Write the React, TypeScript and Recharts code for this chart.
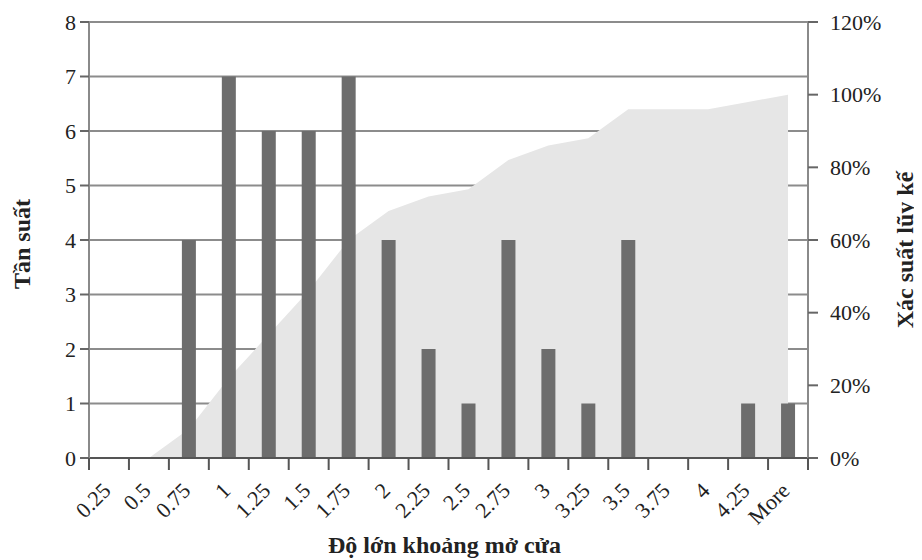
import React from "react";
import { Area, Bar, CartesianGrid, ComposedChart, Label, XAxis, YAxis } from "recharts";

const BINS = [
  "0.25", "0.5", "0.75", "1", "1.25", "1.5", "1.75", "2", "2.25",
  "2.5", "2.75", "3", "3.25", "3.5", "3.75", "4", "4.25", "More",
];
const FREQUENCY = [0, 0, 4, 7, 6, 6, 7, 4, 2, 1, 4, 2, 1, 4, 0, 0, 1, 1];
const CUMULATIVE = [0, 0, 0.08, 0.22, 0.34, 0.46, 0.6, 0.68, 0.72, 0.74, 0.82, 0.86, 0.88, 0.96, 0.96, 0.96, 0.98, 1];
const FREQ_TICKS = [0, 1, 2, 3, 4, 5, 6, 7, 8];
const CUM_TICKS = [0, 0.2, 0.4, 0.6, 0.8, 1, 1.2];

const rows = BINS.map((bin, i) => ({ bin, freq: FREQUENCY[i], cum: CUMULATIVE[i] }));

const W = 914;
const H = 552;
const PLOT_W = 719;
const BAND = PLOT_W / BINS.length;
const TEXT = "#222";
const AXIS = "#8a8a8a";

function BinTick(props: any) {
  const { x, y, payload, index } = props;
  const half = BAND / 2;
  return (
    <g>
      <line x1={x - half} x2={x - half} y1={y} y2={y + 12} stroke="#555" strokeWidth={2} />
      {index === BINS.length - 1 ? (
        <line x1={x + half} x2={x + half} y1={y} y2={y + 12} stroke="#555" strokeWidth={2} />
      ) : null}
      <text
        x={x + 3}
        y={y + 34}
        transform={`rotate(-45 ${x + 3} ${y + 34})`}
        textAnchor="end"
        fontSize={22}
        fill={TEXT}
      >
        {payload.value}
      </text>
    </g>
  );
}

function verticalTitle(text: string, dx: number, dy: number) {
  return (props: any) => {
    const vb = props.viewBox;
    const cx = vb.x + dx;
    const cy = vb.y + vb.height / 2 + dy;
    return (
      <text
        x={cx}
        y={cy}
        transform={`rotate(-90 ${cx} ${cy})`}
        textAnchor="middle"
        dominantBaseline="central"
        fontSize={24}
        fontWeight="bold"
        fill={TEXT}
      >
        {text}
      </text>
    );
  };
}

function bottomTitle(props: any) {
  const vb = props.viewBox;
  return (
    <text
      x={vb.x + vb.width / 2 - 4}
      y={vb.y + 95}
      textAnchor="middle"
      fontSize={24}
      fontWeight="bold"
      fill={TEXT}
    >
      Độ lớn khoảng mở cửa
    </text>
  );
}

export default function App() {
  return (
    <div style={{ width: W, height: H, fontFamily: "'Liberation Serif', serif" }}>
      <ComposedChart width={W} height={H} data={rows} margin={{ top: 14, right: 4, bottom: 0, left: 5 }}>
        <CartesianGrid yAxisId="freq" vertical={false} stroke="#8c8c8c" strokeWidth={2} />
        <XAxis
          dataKey="bin"
          interval={0}
          height={102}
          tickLine={false}
          tickSize={0}
          tickMargin={0}
          axisLine={{ stroke: "#555", strokeWidth: 2 }}
          tick={<BinTick />}
        >
          <Label content={bottomTitle} />
        </XAxis>
        <YAxis
          yAxisId="freq"
          domain={[0, 8]}
          ticks={FREQ_TICKS}
          width={76}
          tickSize={9}
          tickMargin={4}
          axisLine={{ stroke: AXIS, strokeWidth: 2 }}
          tickLine={{ stroke: "#666", strokeWidth: 2 }}
          tick={{ fontSize: 22, fill: TEXT }}
        >
          <Label content={verticalTitle("Tần suất", 9, 4)} />
        </YAxis>
        <YAxis
          yAxisId="cum"
          orientation="right"
          domain={[0, 1.2]}
          ticks={CUM_TICKS}
          width={110}
          tickSize={10}
          tickMargin={12}
          axisLine={{ stroke: AXIS, strokeWidth: 2 }}
          tickLine={{ stroke: "#666", strokeWidth: 2 }}
          tick={{ fontSize: 22, fill: TEXT }}
          tickFormatter={(v) => `${Math.round(v * 100)}%`}
        >
          <Label content={verticalTitle("Xác suất lũy kế", 97, 10)} />
        </YAxis>
        <Area
          yAxisId="cum"
          dataKey="cum"
          type="linear"
          fill="#e6e6e6"
          fillOpacity={1}
          stroke="none"
          isAnimationActive={false}
        />
        <Bar yAxisId="freq" dataKey="freq" fill="#6d6d6d" barSize={14} isAnimationActive={false} />
      </ComposedChart>
    </div>
  );
}
